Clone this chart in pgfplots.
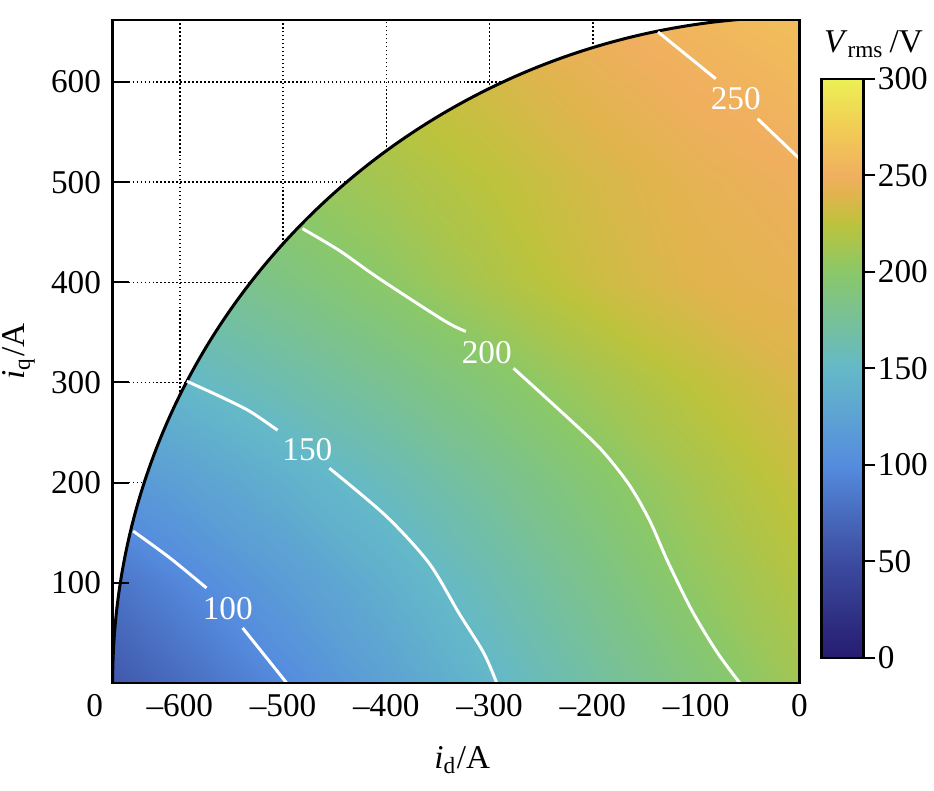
\documentclass[border=0pt]{standalone}
\usepackage{pgfplots}
\pgfplotsset{compat=1.18}
\usepackage{fontspec}
\setmainfont{Liberation Serif}
\pgfkeys{/pgf/number format/assume math mode=true}
\pgfplotsset{colormap={vrms}{rgb255(0pt)=(38,28,112); rgb255(50pt)=(60,76,160); rgb255(100pt)=(85,140,222); rgb255(150pt)=(100,185,200); rgb255(200pt)=(138,200,105); rgb255(225pt)=(188,195,60); rgb255(240pt)=(225,180,78); rgb255(250pt)=(240,175,95); rgb255(275pt)=(242,205,85); rgb255(300pt)=(236,240,85)}}
\pgfplotstableread{
x y v
-700 0 50
-600 0 75
-500 0 99
-400 0 124
-300 0 148
-200 0 170
-100 0 191
0 0 212

-700 100 72
-600 100 96
-500 100 118
-400 100 139
-300 100 161
-200 100 182
-100 100 204
0 100 221

-700 200 104
-600 200 122
-500 200 139
-400 200 157
-300 200 176
-200 200 195
-100 200 214
0 200 229

-700 300 135
-600 300 149
-500 300 164
-400 300 179
-300 300 195
-200 300 212
-100 300 226
0 300 237

-700 400 160
-600 400 172
-500 400 186
-400 400 201
-300 400 217
-200 400 231
-100 400 240
0 400 244

-700 500 182
-600 500 194
-500 500 203
-400 500 214
-300 500 225
-200 500 235
-100 500 243
0 500 249

-700 600 200
-600 600 210
-500 600 218
-400 600 226
-300 600 234
-200 600 243
-100 600 251
0 600 257

-700 700 215
-600 700 225
-500 700 232
-400 700 239
-300 700 246
-200 700 253
-100 700 260
0 700 266
}\fielddata
\begin{document}
\fontsize{10pt}{12pt}\selectfont
\begin{tikzpicture}
\begin{axis}[
  name=ax,
  scale only axis, width=206.7pt, height=199.5pt,
  xmin=-665, xmax=0, ymin=0, ymax=662,
  disabledatascaling,
  axis on top,
  axis line style={line width=0.7pt},
  colormap name=vrms,
  point meta min=0, point meta max=300,
  xtick={-600,-500,-400,-300,-200,-100,0},
  xticklabels={\textendash600,\textendash500,\textendash400,\textendash300,\textendash200,\textendash100,0},
  xtick style={draw=none},
  ytick={100,200,300,400,500,600},
  ytick pos=left,
  ytick style={line width=0.6pt, black},
  tick align=inside,
  major tick length=4.8pt,
  xlabel={\textit{i}\textsubscript{d}/A},
  ylabel={\textit{i}\textsubscript{q}/A},
  xlabel style={at={(rel axis cs:0.509,-0.0947)}, anchor=north, inner sep=0pt},
  ylabel style={at={(rel axis cs:-0.1364,0.5)}, anchor=center, inner sep=0pt},
  colorbar,
  colorbar style={
    at={(parent axis.north east)}, anchor=north west,
    xshift=-1.9pt, yshift=-17.7pt,
    scale only axis, width=12.6pt, height=174.3pt,
    ytick={0,50,100,150,200,250,300},
    ytick pos=right, yticklabel pos=right,
    tick align=outside, major tick length=3.6pt,
    axis line style={line width=0.7pt},
    ytick style={line width=0.6pt, black},
    yticklabel style={/pgf/number format/assume math mode=true, inner sep=0.6pt},
  },
]
\addplot[surf, shader=interp, mesh/cols=8, point meta=explicit] table[x=x, y=y, meta=v] {\fielddata};
% white area outside the current limit circle
\fill[white] (axis cs:-700,0) -- (axis cs:-665,0) arc[start angle=180, end angle=90, radius=665] -- (axis cs:0,700) -- (axis cs:-700,700) -- cycle;
% dotted grid in the white area
\begin{scope}[line width=0.45pt, dash pattern=on 0.45pt off 0.75pt]
\draw (axis cs:-600,286.7) -- (axis cs:-600,662);
\draw (axis cs:-500,438.4) -- (axis cs:-500,662);
\draw (axis cs:-400,531.3) -- (axis cs:-400,662);
\draw (axis cs:-300,593.5) -- (axis cs:-300,662);
\draw (axis cs:-200,634.2) -- (axis cs:-200,662);
\draw (axis cs:-665,600) -- (axis cs:-286.7,600);
\draw (axis cs:-665,500) -- (axis cs:-438.4,500);
\draw (axis cs:-665,400) -- (axis cs:-531.3,400);
\draw (axis cs:-665,300) -- (axis cs:-593.5,300);
\draw (axis cs:-665,200) -- (axis cs:-634.2,200);
\end{scope}
\draw[line width=0.9pt] (axis cs:-665,0) arc[start angle=180, end angle=90, radius=665];
% contour lines
\addplot[white, line width=0.9pt, smooth] coordinates {(-645.1,151.5) (-609.4,124.6) (-574.1,94.7)};
\addplot[white, line width=0.9pt, smooth] coordinates {(-539.1,54.8) (-496.6,0)};
\addplot[white, line width=0.9pt, smooth] coordinates {(-593.1,301.1) (-561.2,286.1) (-532.3,271.2) (-505.3,252.2)};
\addplot[white, line width=0.9pt, smooth] coordinates {(-455.2,214.4) (-400.2,166.5) (-358.7,119.6) (-329.8,69.8) (-305.7,29.9) (-293.2,0)};
\addplot[white, line width=0.9pt, smooth] coordinates {(-481.2,453.6) (-445.5,431.7) (-407.0,403.8) (-344.3,361.9) (-323.0,350.9)};
\addplot[white, line width=0.9pt, smooth] coordinates {(-276.8,314.1) (-223.7,264.2) (-192.0,233.0) (-165.0,198.0) (-145.0,162.0) (-127.0,120.0) (-104.0,72.0) (-80.0,31.0) (-57.9,0)};
\addplot[white, line width=0.9pt, smooth] coordinates {(-136.9,650.0) (-81.0,603.2)};
\addplot[white, line width=0.9pt, smooth] coordinates {(-40.5,563.3) (0,523.4)};
\node[white] at (axis cs:-553.5,73.8) {100};
\node[white] at (axis cs:-476.4,233.3) {150};
\node[white] at (axis cs:-302.8,329.5) {200};
\node[white] at (axis cs:-61.7,583.2) {250};
\end{axis}
\node[anchor=north, inner sep=0.333em] at ([xshift=-5.4pt]ax.south west) {0};
\node[anchor=base] at ([shift={(229pt,189.6pt)}]ax.south west) {\textit{V}\textsubscript{rms}\,/V};
\path ([shift={(-33.9pt,-32.4pt)}]ax.south west) rectangle ++(280.2pt,237.9pt);
\end{tikzpicture}
\end{document}
